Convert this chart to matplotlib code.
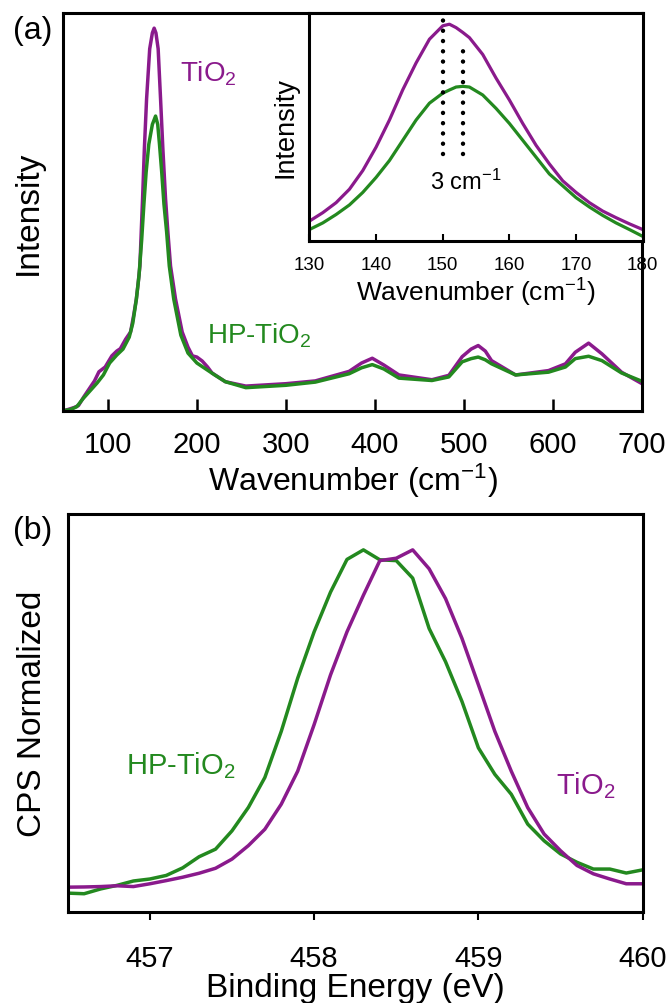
import matplotlib

matplotlib.use("Agg")
import matplotlib.pyplot as plt

PURPLE = "#8a1a8c"
GREEN = "#23891f"

# Raman spectra, panel (a); intensity normalised to the axis height
raman_x_tio2 = [50, 55, 62, 67, 73, 79, 85, 90, 97, 104.5, 110, 114, 120, 125.5, 129, 132,
                134, 136, 137.5, 139, 141, 143.5, 147, 150, 152, 154, 156.5, 159.2, 161.8,
                164.8, 167.4, 170.4, 176, 183.5, 190, 195, 200, 206, 212, 217, 232, 255,
                300, 333, 371, 385, 397, 410, 427, 464, 483, 498, 508, 516, 524, 531, 558,
                595, 614, 625, 640, 655, 677, 700]
raman_tio2 = [0.0, 0.003, 0.008, 0.013, 0.035, 0.055, 0.075, 0.098, 0.11, 0.138, 0.15,
              0.156, 0.18, 0.198, 0.24, 0.281, 0.32, 0.364, 0.45, 0.533, 0.658, 0.784, 0.91,
              0.95, 0.962, 0.95, 0.91, 0.784, 0.658, 0.533, 0.45, 0.364, 0.281, 0.198, 0.16,
              0.138, 0.135, 0.125, 0.11, 0.095, 0.073, 0.062, 0.068, 0.075, 0.099, 0.12,
              0.132, 0.115, 0.09, 0.078, 0.089, 0.136, 0.155, 0.164, 0.15, 0.126, 0.09,
              0.101, 0.118, 0.147, 0.17, 0.143, 0.097, 0.068]
raman_x_hp = [50, 58, 65, 72, 80, 88, 95, 102, 110, 117, 124, 128, 132, 135, 138, 140.5,
              143, 146, 150, 153.6, 156, 158, 160.5, 163, 166, 169, 174, 182, 190, 200, 210,
              220, 232, 255, 300, 333, 371, 385, 397, 410, 427, 464, 483, 498, 508, 516,
              524, 531, 558, 595, 614, 625, 640, 655, 677, 700]
raman_hp = [0.0, 0.003, 0.01, 0.03, 0.05, 0.07, 0.09, 0.12, 0.14, 0.155, 0.185, 0.22, 0.28,
            0.34, 0.43, 0.52, 0.6, 0.67, 0.72, 0.741, 0.72, 0.67, 0.6, 0.52, 0.45, 0.364,
            0.281, 0.19, 0.145, 0.12, 0.105, 0.09, 0.073, 0.058, 0.064, 0.072, 0.093, 0.108,
            0.116, 0.105, 0.082, 0.076, 0.085, 0.123, 0.131, 0.135, 0.128, 0.118, 0.09,
            0.097, 0.11, 0.131, 0.137, 0.126, 0.095, 0.074]

# close-up of the main Eg mode (inset)
inset_x = [130, 132, 134, 136, 138, 140, 142, 144, 146, 148, 150, 151, 152, 153, 154, 156,
           158, 160, 162, 164, 166, 168, 170, 172, 174, 176, 178, 180]
inset_tio2 = [0.086, 0.123, 0.167, 0.226, 0.308, 0.411, 0.53, 0.663, 0.781, 0.885, 0.944,
              0.951, 0.936, 0.915, 0.892, 0.818, 0.714, 0.618, 0.515, 0.419, 0.337, 0.263,
              0.212, 0.167, 0.130, 0.101, 0.074, 0.049]
inset_hp = [0.049, 0.078, 0.115, 0.157, 0.212, 0.278, 0.352, 0.441, 0.53, 0.604, 0.648,
            0.662, 0.675, 0.678, 0.675, 0.64, 0.581, 0.515, 0.441, 0.367, 0.293, 0.241,
            0.189, 0.148, 0.111, 0.078, 0.049, 0.019]
peak_tio2 = 150
peak_hp = 153

# Ti 2p3/2 XPS, panel (b)
xps_x = [456.5, 456.6, 456.7, 456.8, 456.9, 457.0, 457.1, 457.2, 457.3, 457.4, 457.5,
         457.6, 457.7, 457.8, 457.9, 458.0, 458.1, 458.2, 458.3, 458.4, 458.5, 458.6,
         458.7, 458.8, 458.9, 459.0, 459.1, 459.2, 459.3, 459.4, 459.5, 459.6, 459.7,
         459.8, 459.9, 460.0]
xps_tio2 = [0.0625, 0.063, 0.064, 0.066, 0.064, 0.071, 0.079, 0.0875, 0.0975, 0.11, 0.133,
            0.167, 0.208, 0.271, 0.354, 0.471, 0.596, 0.704, 0.796, 0.883, 0.889, 0.91,
            0.8625, 0.7875, 0.6875, 0.571, 0.454, 0.354, 0.2625, 0.196, 0.154, 0.117,
            0.096, 0.083, 0.071, 0.071]
xps_hp = [0.0475, 0.046, 0.058, 0.067, 0.078, 0.083, 0.092, 0.111, 0.139, 0.158, 0.204,
          0.263, 0.338, 0.454, 0.5875, 0.704, 0.804, 0.886, 0.91, 0.885, 0.883, 0.839,
          0.7125, 0.629, 0.529, 0.4125, 0.346, 0.296, 0.221, 0.179, 0.146, 0.125, 0.108,
          0.108, 0.098, 0.106]

raman_ticks = [100, 200, 300, 400, 500, 600, 700]
inset_ticks = [130, 140, 150, 160, 170, 180]
xps_ticks = [457, 458, 459, 460]

plt.rcParams["font.family"] = ["Liberation Sans", "DejaVu Sans"]
plt.rcParams["mathtext.fontset"] = "custom"
plt.rcParams["mathtext.rm"] = "Liberation Sans"
plt.rcParams["mathtext.it"] = "Liberation Sans:italic"

fig = plt.figure(figsize=(6.71, 10.04), dpi=100)
ax_a = fig.add_axes([0.0944, 0.5899, 0.8624, 0.3961])
ax_in = fig.add_axes([0.4612, 0.7593, 0.4966, 0.2267])
ax_b = fig.add_axes([0.1009, 0.0906, 0.8569, 0.3964])

for ax in (ax_a, ax_in, ax_b):
    for sp in ax.spines.values():
        sp.set_linewidth(2.2)
    ax.set_yticks([])
    ax.set_ylim(0, 1)

# (a) Raman
ax_a.plot(raman_x_tio2, raman_tio2, color=PURPLE, lw=2.5)
ax_a.plot(raman_x_hp, raman_hp, color=GREEN, lw=2.5)
ax_a.set_xlim(50, 700)
ax_a.set_xticks(raman_ticks)
ax_a.tick_params(axis="x", direction="in", length=8.5, width=1.8, labelsize=21, pad=14)
ax_a.set_xlabel(r"Wavenumber (cm$\mathregular{^{-1}}$)", fontsize=23, labelpad=2)
ax_a.set_ylabel("Intensity", fontsize=24, labelpad=14)
ax_a.text(181, 0.85, r"TiO$\mathregular{_2}$", color=PURPLE, fontsize=20, va="center")
ax_a.text(211, 0.19, r"HP-TiO$\mathregular{_2}$", color=GREEN, fontsize=20, va="center")
fig.text(0.019, 0.969, "(a)", fontsize=23, va="center")

# inset
ax_in.plot(inset_x, inset_tio2, color=PURPLE, lw=2.3)
ax_in.plot(inset_x, inset_hp, color=GREEN, lw=2.3)
for x0, y1 in ((peak_tio2, 0.98), (peak_hp, 0.84)):
    ax_in.plot([x0, x0], [0.38, y1], color="black", lw=3.2,
               linestyle=(0, (0.01, 2.3)), dash_capstyle="round")
ax_in.text(153.5, 0.26, r"3 cm$\mathregular{^{-1}}$", fontsize=17, ha="center", va="center")
ax_in.set_xlim(130, 180)
ax_in.set_xticks(inset_ticks)
ax_in.tick_params(axis="x", direction="in", length=5, width=1.5, labelsize=13.5, pad=11)
ax_in.set_xlabel(r"Wavenumber (cm$\mathregular{^{-1}}$)", fontsize=19, labelpad=2)
ax_in.set_ylabel("Intensity", fontsize=19.5, labelpad=8)

# (b) XPS
ax_b.plot(xps_x, xps_hp, color=GREEN, lw=2.5)
ax_b.plot(xps_x, xps_tio2, color=PURPLE, lw=2.5)
ax_b.set_xlim(456.5, 460)
ax_b.set_xticks(xps_ticks)
ax_b.tick_params(axis="x", direction="out", length=6, width=1.5, labelsize=21, pad=17)
ax_b.set_xlabel("Binding Energy (eV)", fontsize=24, labelpad=0)
ax_b.set_ylabel("CPS Normalized", fontsize=24, labelpad=14)
ax_b.text(456.855, 0.37, r"HP-TiO$\mathregular{_2}$", color=GREEN, fontsize=21, va="center")
ax_b.text(459.47, 0.32, r"TiO$\mathregular{_2}$", color=PURPLE, fontsize=21, va="center")
fig.text(0.019, 0.471, "(b)", fontsize=23, va="center")

fig.savefig("out.png", dpi=100)
plt.close(fig)
